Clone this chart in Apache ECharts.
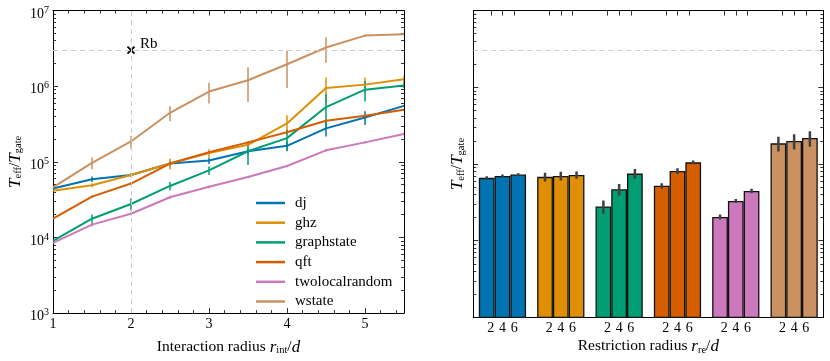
<!DOCTYPE html>
<html><head><meta charset="utf-8">
<script src="https://cdn.jsdelivr.net/npm/echarts@6/dist/echarts.min.js"></script>
<style>html,body{margin:0;padding:0;background:#fff}#c{width:830px;height:361px}</style>
</head><body><div id="c"></div>
<script>
// ---------- data ----------
const radii = [1, 1.5, 2, 2.5, 3, 3.5, 4, 4.5, 5, 5.5];
const circuits = ['dj', 'ghz', 'graphstate', 'qft', 'twolocalrandom', 'wstate'];
const colors = ['#0173B2', '#DE8F05', '#029E73', '#D55E00', '#CC78BC', '#CA9161'];

const djVals = [4.45e4, 5.9e4, 6.7e4, 9.5e4, 1.04e5, 1.38e5, 1.63e5, 2.77e5, 3.86e5, 5.5e5];
const djErr = [0, 5e3, 3e3, 8e3, 1e4, 1.2e4, 2.5e4, 6e4, 8e4, 2e4];
const ghzVals = [4.15e4, 4.9e4, 6.7e4, 9.5e4, 1.31e5, 1.68e5, 3.22e5, 9.5e5, 1.05e6, 1.24e6];
const ghzErr = [0, 3e3, 4e3, 1.6e4, 1.6e4, 1.2e4, 9e4, 3.5e5, 2.5e5, 1.5e5];
const graphVals = [9.0e3, 1.77e4, 2.77e4, 4.8e4, 7.7e4, 1.38e5, 2.06e5, 5.3e5, 9.0e5, 1.02e6];
const graphErr = [0, 2.5e3, 5e3, 6e3, 1e4, 4.7e4, 6e4, 2.6e5, 2.7e5, 8e4];
const qftVals = [1.77e4, 3.47e4, 5.17e4, 9.5e4, 1.34e5, 1.81e5, 2.46e5, 3.5e5, 4.06e5, 4.9e5];
const qftErr = [0, 1.5e3, 2e3, 4e3, 5e3, 6e3, 8e3, 1e4, 1.2e4, 1.5e4];
const twoVals = [8.5e3, 1.48e4, 2.06e4, 3.4e4, 4.68e4, 6.3e4, 8.8e4, 1.42e5, 1.81e5, 2.34e5];
const twoErr = [0, 8e2, 1e3, 1.5e3, 2e3, 2.5e3, 3e3, 5e3, 6e3, 8e3];
const wVals = [4.6e4, 9.7e4, 1.86e5, 4.45e5, 8.5e5, 1.2e6, 1.95e6, 3.25e6, 4.67e6, 4.85e6];
const wErr = [0, 1.7e4, 3.6e4, 1.0e5, 2.6e5, 5.8e5, 1.0e6, 1.2e6, 1.5e5, 1e5];

const restrictRadii = [2, 4, 6];
const barDj = [6.6e4, 7.0e4, 7.3e4];      const barDjErr = [3e3, 3e3, 3e3];
const barGhz = [6.8e4, 7.0e4, 7.2e4];     const barGhzErr = [9e3, 9e3, 8e3];
const barGraph = [2.8e4, 4.68e4, 7.5e4];  const barGraphErr = [5.5e3, 8e3, 1.1e4];
const barQft = [5.2e4, 8.1e4, 1.05e5];    const barQftErr = [4e3, 7e3, 6e3];
const barTwo = [2.04e4, 3.3e4, 4.45e4];   const barTwoErr = [1.5e3, 2e3, 3e3];
const barW = [1.86e5, 2.0e5, 2.18e5];     const barWErr = [4e4, 4.5e4, 5e4];

const xTicks = [1, 2, 3, 4, 5];
const yTickExps = [3, 4, 5, 6, 7];
const rbPoint = [2, 3e6];

const lineVals = [djVals, ghzVals, graphVals, qftVals, twoVals, wVals];
const lineErrs = [djErr, ghzErr, graphErr, qftErr, twoErr, wErr];
const barVals = [barDj, barGhz, barGraph, barQft, barTwo, barW];
const barErrs = [barDjErr, barGhzErr, barGraphErr, barQftErr, barTwoErr, barWErr];

// ---------- layout / style ----------
const FONT = 'Liberation Serif';
const FS = 15;      // legend, annotation
const NFS = 15.5;   // axis names
const TFS = 14;     // tick labels
const G0 = {left: 53, top: 10.6, width: 351, height: 306.8};
const G1 = {left: 473.3, top: 10.6, width: 350, height: 306.8};
const barFrac = 0.27, tickFrac = 0.2;
const xMin = 1, xMax = 5.5;
const yMin = Math.pow(10, yTickExps[0]), yMax = Math.pow(10, yTickExps[yTickExps.length - 1]);

const rich = {
  n: {fontFamily: FONT, fontSize: NFS, color: '#000', verticalAlign: 'top', lineHeight: 17},
  i: {fontFamily: FONT, fontSize: NFS + 1.5, fontStyle: 'italic', color: '#000', verticalAlign: 'top', lineHeight: 17},
  s: {fontFamily: FONT, fontSize: 10.5, color: '#000', verticalAlign: 'bottom', lineHeight: 11, padding: [9, 0, 0, 0]},
  b: {fontFamily: FONT, fontSize: TFS, color: '#000', verticalAlign: 'bottom', lineHeight: 16},
  e: {fontFamily: FONT, fontSize: 10, color: '#000', verticalAlign: 'top', lineHeight: 11, padding: [0, 0, 5, 0]}
};
const yName = '{i|T}{s|eff}{n|/}{i|T}{s|gate}';

// tick position helpers
const xMinor = [];
xTicks.forEach(m => { for (let j = 1; j < 5; j++) { const v = +(m + 0.2 * j).toFixed(2); if (v < xMax) xMinor.push(v); } });
const yMinorLog = [];
for (let e = yTickExps[0]; e < yTickExps[yTickExps.length - 1]; e++) for (let k = 2; k <= 9; k++) yMinorLog.push(Math.log10(k * Math.pow(10, e)));
const barTickPos = [], barTickLab = {};
circuits.forEach((c, g) => restrictRadii.forEach((r, k) => { const p = g + 0.5 + (k - 1) * tickFrac; barTickPos.push(p); barTickLab[p.toFixed(4)] = String(r); }));

function tickAxis(gridIndex, pos, min, max, values, len) {
  return {gridIndex, type: 'value', position: pos, min, max, silent: true,
    axisLine: {show: false, onZero: false}, axisLabel: {show: false}, splitLine: {show: false},
    axisTick: {show: true, inside: true, length: len, customValues: values, lineStyle: {color: '#000', width: 0.8}}};
}
const axLine = {show: true, onZero: false, lineStyle: {color: '#000', width: 1}};
const majTick = {show: true, inside: true, length: 5, lineStyle: {color: '#000', width: 0.8}};

function logAxis(gridIndex, pos, showLabel, name) {
  const a = {gridIndex, type: 'log', logBase: 10, position: pos, min: yMin, max: yMax, splitNumber: 4,
    axisLine: axLine, axisTick: majTick, splitLine: {show: false}, minorTick: {show: false},
    axisLabel: {show: showLabel, margin: 4, padding: [5, 0, 0, 0],
      formatter: v => '{b|10}{e|' + Math.round(Math.log10(v)) + '}', rich}};
  if (name) { a.nameLocation = 'middle'; a.nameGap = name.gap; a.name = name.text; a.nameTextStyle = {rich}; }
  return a;
}

const xAxis = [
  {gridIndex: 0, type: 'value', position: 'bottom', min: xMin, max: xMax, interval: 1,
    axisLine: axLine, axisTick: Object.assign({}, majTick, {customValues: xTicks}), splitLine: {show: false},
    axisLabel: {fontFamily: FONT, fontSize: TFS, color: '#000', margin: 4, customValues: xTicks},
    name: '{n|Interaction radius }{i|r}{s|int}{n|/}{i|d}', nameLocation: 'middle', nameGap: 21, nameTextStyle: {rich}},
  tickAxis(0, 'bottom', xMin, xMax, xMinor, 3),
  Object.assign(tickAxis(0, 'top', xMin, xMax, xTicks, 5), {axisLine: axLine}),
  tickAxis(0, 'top', xMin, xMax, xMinor, 3),
  {gridIndex: 1, type: 'category', position: 'bottom', data: circuits,
    axisLine: axLine, axisTick: {show: false}, axisLabel: {show: false}, splitLine: {show: false},
    name: '{n|Restriction radius }{i|r}{s|re}{n|/}{i|d}', nameLocation: 'middle', nameGap: 21, nameTextStyle: {rich}},
  {gridIndex: 1, type: 'value', position: 'bottom', min: 0, max: circuits.length,
    axisLine: {show: false, onZero: false}, splitLine: {show: false},
    axisTick: Object.assign({}, majTick, {customValues: barTickPos}),
    axisLabel: {fontFamily: FONT, fontSize: TFS, color: '#000', margin: 4, customValues: barTickPos,
      formatter: v => barTickLab[v.toFixed(4)] || ''}},
  Object.assign(tickAxis(1, 'top', 0, circuits.length, barTickPos, 5), {axisLine: axLine})
];

const yAxis = [
  logAxis(0, 'left', true, {text: yName, gap: 29}),
  tickAxis(0, 'left', yTickExps[0], yTickExps[yTickExps.length - 1], yMinorLog, 3),
  logAxis(0, 'right', false),
  tickAxis(0, 'right', yTickExps[0], yTickExps[yTickExps.length - 1], yMinorLog, 3),
  logAxis(1, 'left', false, {text: yName, gap: 7}),
  tickAxis(1, 'left', yTickExps[0], yTickExps[yTickExps.length - 1], yMinorLog, 3),
  logAxis(1, 'right', false),
  tickAxis(1, 'right', yTickExps[0], yTickExps[yTickExps.length - 1], yMinorLog, 3)
];

const refLine = {silent: true, symbol: ['none', 'none'], label: {show: false},
  lineStyle: {color: '#cccccc', type: [5, 4], width: 1}};

const series = [];
// reference point (Rb)
series.push({type: 'scatter', name: 'Rb', xAxisIndex: 0, yAxisIndex: 0, z: 1,
  data: [rbPoint], symbol: 'path://M0,0L10,10M10,0L0,10', symbolSize: 7,
  itemStyle: {color: 'none', borderColor: '#000', borderWidth: 1.8, opacity: 1},
  label: {show: true, formatter: 'Rb', position: 'right', distance: 3, offset: [0, -6],
    fontFamily: FONT, fontSize: FS, color: '#000', textBorderWidth: 0},
  markLine: Object.assign({}, refLine, {data: [{yAxis: rbPoint[1]}, {xAxis: rbPoint[0]}]})
});

// lines + error bars
circuits.forEach((c, ci) => {
  series.push({type: 'custom', name: c + '_err', xAxisIndex: 0, yAxisIndex: 0, z: 2, clip: true, silent: true,
    data: radii.map((r, i) => [r, lineVals[ci][i], lineErrs[ci][i]]),
    renderItem: (params, api) => {
      const x = api.value(0), y = api.value(1), e = api.value(2);
      if (!e) return null;
      const p1 = api.coord([x, y + e]), p2 = api.coord([x, Math.max(y - e, 1)]);
      return {type: 'line', shape: {x1: p1[0], y1: p1[1], x2: p2[0], y2: p2[1]},
        style: {stroke: colors[ci], lineWidth: 1.5}};
    }
  });
  series.push({type: 'line', name: c, xAxisIndex: 0, yAxisIndex: 0, z: 3, clip: true,
    data: radii.map((r, i) => [r, lineVals[ci][i]]), symbol: 'none', showSymbol: false,
    lineStyle: {color: colors[ci], width: 2}, itemStyle: {color: colors[ci]}});
});

// bars
restrictRadii.forEach((r, k) => {
  const s = {type: 'bar', name: 'r' + r, xAxisIndex: 4, yAxisIndex: 4, z: 2, clip: true,
    barWidth: (barFrac * 100) + '%', barGap: '0%',
    data: circuits.map((c, g) => ({value: barVals[g][k], itemStyle: {color: colors[g], borderColor: '#111', borderWidth: 1.3}}))};
  if (k === 0) s.markLine = Object.assign({}, refLine, {data: [{yAxis: rbPoint[1]}]});
  series.push(s);
});
series.push({type: 'custom', name: 'bar_err', xAxisIndex: 5, yAxisIndex: 4, z: 4, clip: true, silent: true,
  data: (() => { const d = []; circuits.forEach((c, g) => restrictRadii.forEach((r, k) => d.push([g + 0.5 + (k - 1) * barFrac, barVals[g][k], barErrs[g][k]]))); return d; })(),
  renderItem: (params, api) => {
    const x = api.value(0), y = api.value(1), e = api.value(2);
    const p1 = api.coord([x, y + e]), p2 = api.coord([x, y - e]);
    return {type: 'line', shape: {x1: p1[0], y1: p1[1], x2: p2[0], y2: p2[1]},
      style: {stroke: '#404040', lineWidth: 2.5}};
  }
});

const chart = echarts.init(document.getElementById('c'), null, {renderer: 'canvas'});
chart.setOption({
  animation: false,
  backgroundColor: '#fff',
  grid: [Object.assign({containLabel: false}, G0), Object.assign({containLabel: false}, G1)],
  legend: {data: circuits.map(c => ({name: c, icon: 'rect'})), orient: 'vertical', left: 256, top: 195, padding: 0,
    itemWidth: 29, itemHeight: 2.5, itemGap: 3.7,
    textStyle: {fontFamily: FONT, fontSize: FS, lineHeight: 16, color: '#000', padding: [0, 0, 0, 5]}, selectedMode: false},
  xAxis, yAxis, series
});
</script></body></html>
